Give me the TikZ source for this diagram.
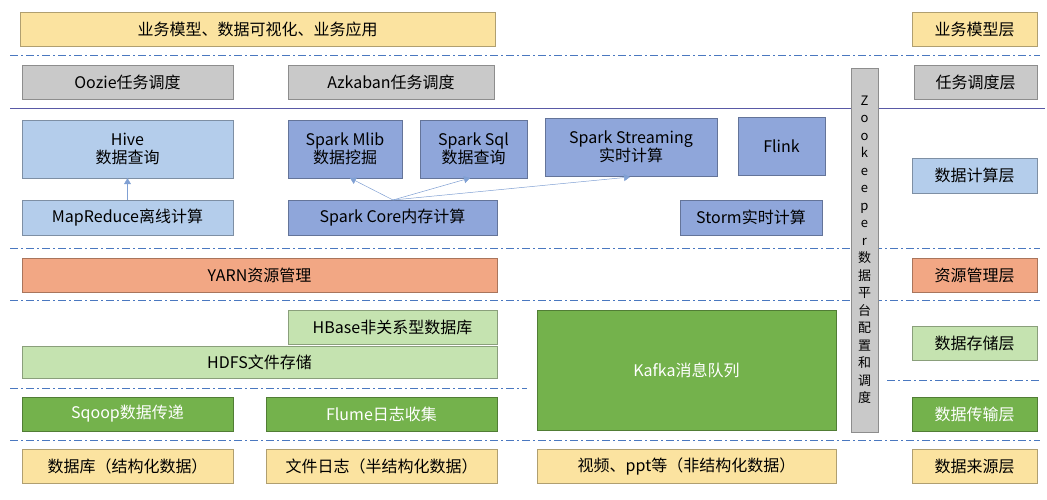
\documentclass[tikz,border=0pt]{standalone}
\usepackage{fontspec}
\setmainfont{Noto Sans CJK SC}
\usetikzlibrary{arrows.meta}
\definecolor{yel}{HTML}{FBE3A0}
\definecolor{gry}{HTML}{C9C9C9}
\definecolor{lb}{HTML}{B4CDEB}
\definecolor{pb}{HTML}{8FA6DA}
\definecolor{sal}{HTML}{F2A784}
\definecolor{lg}{HTML}{C5E3B0}
\definecolor{dg}{HTML}{74B24C}
\definecolor{ln}{HTML}{4A78C0}
\begin{document}
\begin{tikzpicture}[x=1pt,y=-1pt,
 bx/.style={draw=#1!70!black,line width=0.4pt,fill=#1,inner sep=0pt,font=\fontsize{16}{18}\selectfont,align=center},
 sep/.style={draw=ln,line width=1pt,dash pattern=on 8pt off 3pt on 2pt off 3pt},
 arr/.style={draw=ln!70,-{Triangle[length=6pt,width=7pt]},line width=0.5pt}]
\useasboundingbox (0,0) rectangle (1047,500);
\def\B#1#2#3#4#5#6#7{\node[bx=#2,minimum width=#5-#3,minimum height=#6-#4] (#1) at ({(#3+#5)/2},{(#4+#6)/2}) {#7};}
\B{t1}{yel}{20}{12}{495}{46}{业务模型、数据可视化、业务应用}
\B{l1}{yel}{912}{12}{1037}{46}{业务模型层}
\draw[sep] (10,56) -- (1040,56);
\B{oz}{gry}{22}{65}{233}{99}{Oozie任务调度}
\B{az}{gry}{288}{65}{494}{99}{Azkaban任务调度}
\B{l2}{gry}{914}{65}{1037}{99}{任务调度层}
\draw[gray!70!blue,line width=0.8pt] (10,108) -- (1045,108);
\B{hive}{lb}{22}{120}{233}{178}{Hive\\数据查询}
\B{mr}{lb}{22}{200}{233}{235}{MapReduce离线计算}
\B{ml}{pb}{288}{120}{402}{178}{Spark Mlib\\数据挖掘}
\B{sq}{pb}{420}{120}{527}{178}{Spark Sql\\数据查询}
\B{st}{pb}{545}{118}{717}{176}{Spark Streaming\\实时计算}
\B{fl}{pb}{738}{117}{825}{175}{Flink}
\B{sc}{pb}{288}{200}{497}{235}{Spark Core内存计算}
\B{sm}{pb}{680}{200}{822}{235}{Storm实时计算}
\B{l3}{lb}{912}{158}{1037}{193}{数据计算层}
\draw[arr] (mr.north) -- (hive.south);
\coordinate (sct) at (393,200);
\draw[arr] (sct) -- (350,178);
\draw[arr] (sct) -- (470,178);
\draw[arr] (sct) -- (630,177);
\draw[sep] (10,248) -- (1040,248);
\B{yarn}{sal}{22}{258}{497}{292}{YARN资源管理}
\B{l4}{sal}{912}{258}{1037}{292}{资源管理层}
\draw[sep] (10,300) -- (1040,300);
\B{hb}{lg}{288}{310}{497}{344}{HBase非关系型数据库}
\B{hd}{lg}{22}{346}{497}{378}{HDFS文件存储}
\node[bx=dg,text=white,minimum width=299,minimum height=120] (kf) at (686.5,370) {Kafka消息队列};
\B{l5}{lg}{912}{326}{1037}{360}{数据存储层}
\draw[sep] (10,388) -- (527,388);
\draw[sep] (887,380) -- (1040,380);
\node[bx=dg,text=white,minimum width=211,minimum height=34] (sqp) at (127.5,414) {Sqoop数据传递};
\node[bx=dg,text=white,minimum width=231,minimum height=34] (flu) at (381.5,414) {Flume日志收集};
\node[bx=dg,text=white,minimum width=125,minimum height=34] (l6) at (974.5,414) {数据传输层};
\draw[sep] (10,440) -- (1040,440);
\B{d1}{yel}{22}{449}{233}{483}{数据库（结构化数据）}
\B{d2}{yel}{266}{449}{497}{483}{文件日志（半结构化数据）}
\B{d3}{yel}{537}{449}{836}{483}{视频、ppt等（非结构化数据）}
\B{l7}{yel}{912}{449}{1037}{483}{数据来源层}
\node[bx=gry,minimum width=27,minimum height=364,font=\fontsize{13}{17.5}\selectfont] (zk) at (864.5,250) {Z\\o\\o\\k\\e\\e\\p\\e\\r\\数\\据\\平\\台\\配\\置\\和\\调\\度};
\end{tikzpicture}
\end{document}
